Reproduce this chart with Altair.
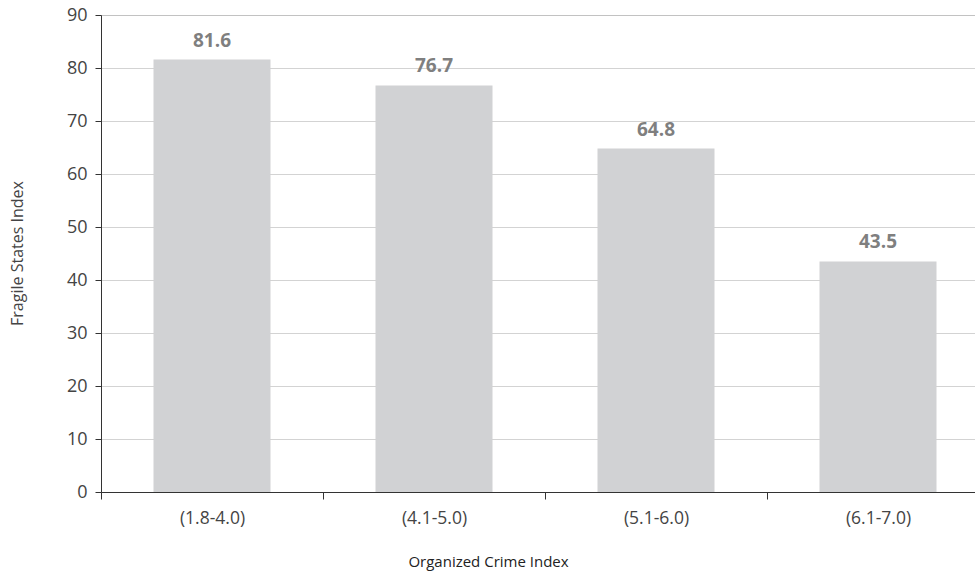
import altair as alt
import pandas as pd

categories = ["(1.8-4.0)", "(4.1-5.0)", "(5.1-6.0)", "(6.1-7.0)"]
values = [81.6, 76.7, 64.8, 43.5]
labels = ["81.6", "76.7", "64.8", "43.5"]

df = pd.DataFrame({"cat": categories, "val": values, "lab": labels})

FONT = "Open Sans"

x = alt.X(
    "cat:N",
    sort=categories,
    scale=alt.Scale(range=[0, 888], paddingInner=0, paddingOuter=0),
    axis=alt.Axis(
        title="Organized Crime Index",
        labelAngle=0,
        tickBand="extent",
        tickSize=7,
        tickColor="#333333",
        domainColor="#333333",
        labelPadding=10,
        labelFontSize=17.5,
        labelColor="#444444",
        labelFont=FONT,
        titleFont=FONT,
        titleFontSize=15,
        titleFontWeight="normal",
        titleColor="#222222",
        titleX=387,
        titleY=69,
        titleBaseline="middle",
        grid=False,
    ),
)

y = alt.Y(
    "val:Q",
    scale=alt.Scale(domain=[0, 90], nice=False),
    axis=alt.Axis(
        title="Fragile States Index",
        values=list(range(0, 91, 10)),
        tickSize=6,
        tickColor="#333333",
        domainColor="#333333",
        labelPadding=8,
        labelFontSize=18,
        labelColor="#444444",
        labelFont=FONT,
        titleFont=FONT,
        titleFontSize=16,
        titleFontWeight="normal",
        titleColor="#444444",
        titleAngle=-90,
        titleX=-84,
        titleY=238,
        titleAlign="center",
        titleBaseline="middle",
        grid=True,
        gridColor="#a6a6a6",
        gridWidth=1,
        gridDash=[1, 1],
    ),
)

bars = alt.Chart(df).mark_bar(color="#d1d2d4", size=117).encode(x=x, y=y)

text = alt.Chart(df).mark_text(
    font=FONT, fontSize=19, fontWeight="bold", color="#7f7f7f",
    baseline="bottom", dy=-9,
).encode(x=alt.X("cat:N", sort=categories), y=alt.Y("val:Q"), text="lab:N")

chart = (
    alt.layer(bars, text)
    .properties(
        width=874,
        height=477,
        autosize=alt.AutoSizeParams(type="none"),
        padding={"left": 101, "top": 15, "right": 0, "bottom": 80},
    )
    .configure_view(stroke=None)
    .configure(background="white")
)

chart.save("out.html", embed_options={"renderer": "svg", "actions": False})
